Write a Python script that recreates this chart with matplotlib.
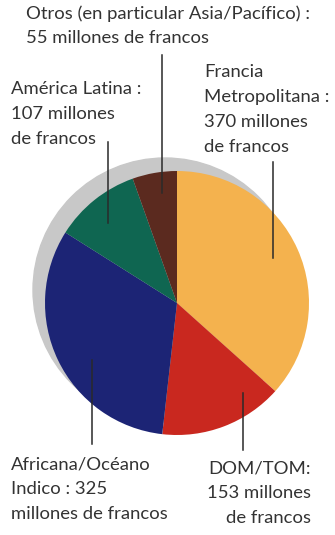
import matplotlib.pyplot as plt
from matplotlib.patches import Circle

# Budget by region, in millions of francs (clockwise from 12 o'clock)
regions = ['Francia Metropolitana', 'DOM/TOM', 'Africana/Océano Indico',
           'América Latina', 'Otros']
amounts = [370, 153, 325, 107, 55]
colors = ['#F4B24E', '#C9281F', '#1C2475', '#0F6651', '#5B2A1F']

labels = [
    ('Francia\nMetropolitana :\n370 millones\nde francos', 204, 64, 'left'),
    ('DOM/TOM:\n153 millones\nde francos', 311, 460, 'right'),
    ('Africana/Océano\nIndico : 325\nmillones de francos', 11, 456, 'left'),
    ('América Latina :\n107 millones\nde francos', 11, 81, 'left'),
    ('Otros (en particular Asia/Pacífico) :\n55 millones de francos', 26, 5, 'left'),
]
# leader lines: x, y_top, y_bottom (pixel rows from the top)
leaders = [(273, 162, 258), (243, 393, 450), (92, 360, 444),
           (108, 142, 223), (162, 55, 193)]

W, H = 335, 535
fig = plt.figure(figsize=(W / 100, H / 100), dpi=100)
ax = fig.add_axes([0, 0, 1, 1])

cx, cy, r = 177, H - 303, 132

# soft grey shadow behind the pie
ax.add_patch(Circle((cx - 12, cy + 13), r, color='#C8C8C8', zorder=1))

wedges, _ = ax.pie(amounts, colors=colors, startangle=90, counterclock=False,
                   center=(cx, cy), radius=r, frame=True,
                   wedgeprops=dict(linewidth=0))
for w in wedges:
    w.set_zorder(2)
ax.set_xlim(0, W)
ax.set_ylim(0, H)
ax.set_aspect('equal')
ax.axis('off')

for x, y0, y1 in leaders:
    ax.plot([x, x], [H - y0, H - y1], color='#2a2a2a', lw=1.1, zorder=3)

for text, x, y, ha in labels:
    ax.text(x, H - y, text, ha=ha, va='top', fontsize=13.3,
            family='Lato', color='#333333',
            linespacing=1.68, multialignment=ha, zorder=4)

fig.savefig('out.png', dpi=100, facecolor='white')
